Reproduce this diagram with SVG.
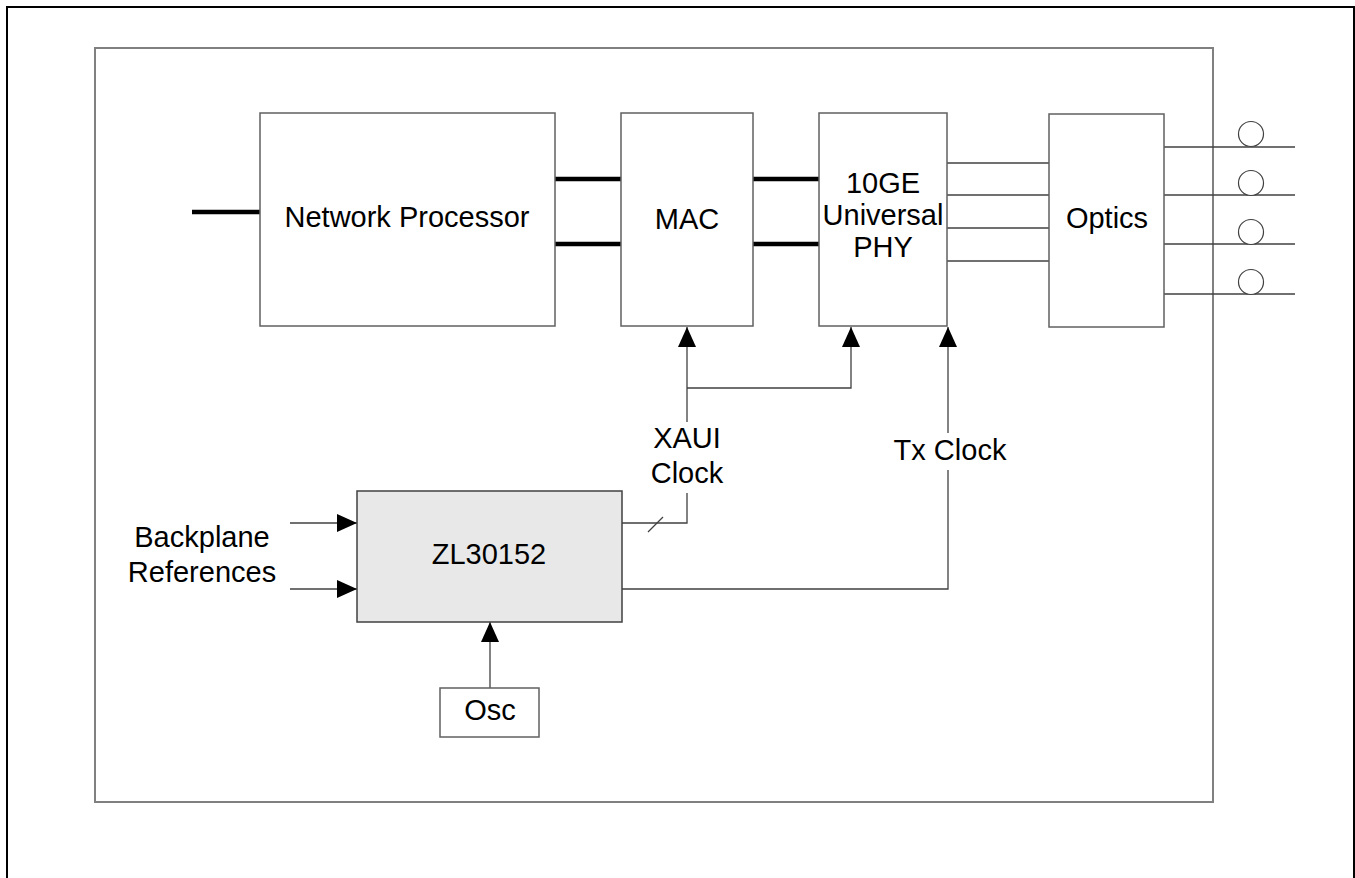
<svg xmlns="http://www.w3.org/2000/svg" width="1355" height="878" viewBox="0 0 1355 878">
<defs>
<marker id="ah" viewBox="0 0 20 18" refX="20" refY="9" markerWidth="20" markerHeight="18" markerUnits="userSpaceOnUse" orient="auto">
<path d="M0,0 L20,9 L0,18 Z" fill="#000"/>
</marker>
<style>
.box{fill:#fff;stroke:#606060;stroke-width:1.5}
.t{font-family:"Liberation Sans",Arial,sans-serif;font-size:29px;fill:#000;text-anchor:middle}
.ln{stroke:#404040;stroke-width:1.3;fill:none}
.thick{stroke:#000;stroke-width:4.5;fill:none}
.circ{fill:#fff;stroke:#404040;stroke-width:1.2}
</style>
</defs>
<rect width="1355" height="878" fill="#fff"/>
<rect x="7" y="7" width="1347" height="900" fill="none" stroke="#000" stroke-width="2"/>
<rect x="95" y="48" width="1118" height="754" fill="none" stroke="#808080" stroke-width="2"/>

<g id="connectors">
<line class="thick" x1="192" y1="212" x2="260" y2="212"/>
<line class="thick" x1="555" y1="179" x2="621" y2="179"/>
<line class="thick" x1="555" y1="244" x2="621" y2="244"/>
<line class="thick" x1="753" y1="179" x2="819" y2="179"/>
<line class="thick" x1="753" y1="244" x2="819" y2="244"/>
<line class="ln" x1="947" y1="163" x2="1049" y2="163"/>
<line class="ln" x1="947" y1="195" x2="1049" y2="195"/>
<line class="ln" x1="947" y1="228" x2="1049" y2="228"/>
<line class="ln" x1="947" y1="261" x2="1049" y2="261"/>
<line class="ln" x1="1164" y1="147" x2="1295" y2="147"/>
<line class="ln" x1="1164" y1="195" x2="1295" y2="195"/>
<line class="ln" x1="1164" y1="244" x2="1295" y2="244"/>
<line class="ln" x1="1164" y1="294" x2="1295" y2="294"/>
<circle class="circ" cx="1251" cy="134" r="12.5"/>
<circle class="circ" cx="1251" cy="183" r="12.5"/>
<circle class="circ" cx="1251" cy="232" r="12.5"/>
<circle class="circ" cx="1251" cy="282" r="12.5"/>
<polyline class="ln" points="622,523 687,523 687,493"/>
<line class="ln" x1="648" y1="532" x2="663" y2="517"/>
<line class="ln" x1="687" y1="422" x2="687" y2="327" marker-end="url(#ah)"/>
<polyline class="ln" points="687,388 851,388 851,327" marker-end="url(#ah)"/>
<polyline class="ln" points="622,589 948,589 948,470"/>
<line class="ln" x1="948" y1="433" x2="948" y2="327" marker-end="url(#ah)"/>
<line class="ln" x1="290" y1="523" x2="357" y2="523" marker-end="url(#ah)"/>
<line class="ln" x1="290" y1="589" x2="357" y2="589" marker-end="url(#ah)"/>
<line class="ln" x1="490" y1="688" x2="490" y2="622" marker-end="url(#ah)"/>
</g>

<g id="np"><rect class="box" x="260" y="113" width="295" height="213"/><text class="t" x="407" y="227">Network Processor</text></g>
<g id="mac"><rect class="box" x="621" y="113" width="132" height="213"/><text class="t" x="687" y="229">MAC</text></g>
<g id="phy"><rect class="box" x="819" y="113" width="128" height="213"/>
<text class="t" x="883" y="193">10GE</text><text class="t" x="883" y="225">Universal</text><text class="t" x="883" y="257">PHY</text></g>
<g id="optics"><rect class="box" x="1049" y="114" width="115" height="213"/><text class="t" x="1107" y="228">Optics</text></g>
<g id="zl"><rect x="357" y="491" width="265" height="131" fill="#e8e8e8" stroke="#404040" stroke-width="1.5"/><text class="t" x="489" y="564">ZL30152</text></g>
<g id="osc"><rect class="box" x="440" y="688" width="99" height="49"/><text class="t" x="490" y="720">Osc</text></g>
<g id="labels">
<text class="t" x="687" y="448">XAUI</text><text class="t" x="687" y="483">Clock</text>
<text class="t" x="950" y="460">Tx Clock</text>
<text class="t" x="202" y="547">Backplane</text><text class="t" x="202" y="582">References</text>
</g>
</svg>
